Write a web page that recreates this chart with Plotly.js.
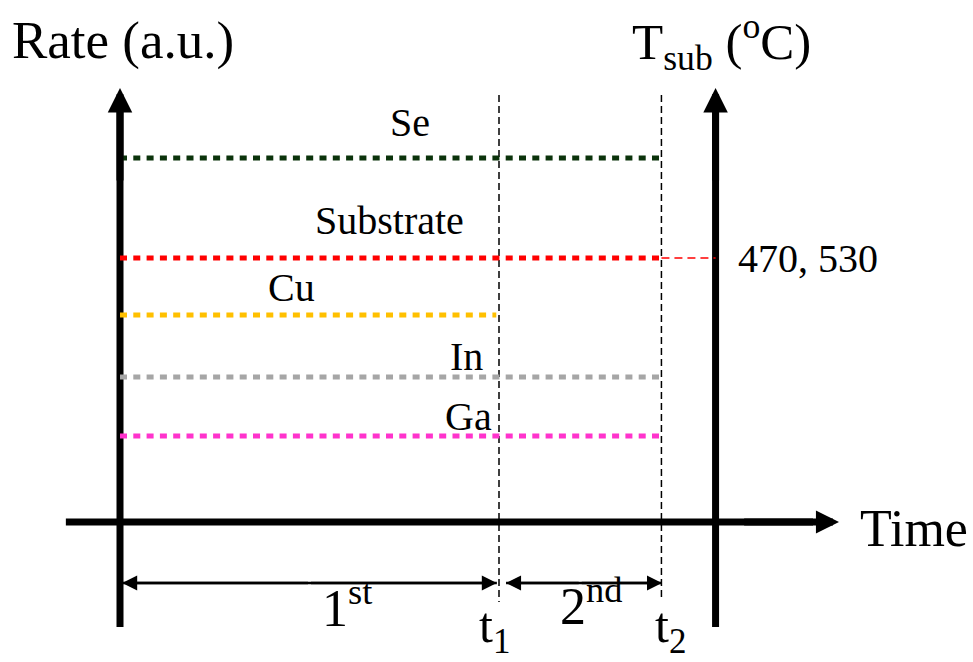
<!DOCTYPE html>
<html>
<head>
<meta charset="utf-8">
<script src="https://cdn.plot.ly/plotly-3.0.1.min.js"></script>
<style>html,body{margin:0;padding:0;background:#fff}#chart{width:973px;height:662px}</style>
</head>
<body>
<div id="chart"></div>
<script>
// ---- data (schematic, arbitrary units) ----
const seriesNames = ['Se', 'Substrate', 'Cu', 'In', 'Ga'];
const seriesLevels = [18.2, 13.2, 10.35, 7.25, 4.3];
const seriesStart = [0, 0, 0, 0, 0];
const seriesEnd = [10, 10, 6.95, 10, 10];
const seriesColors = ['#0b330b', '#ff0000', '#ffc000', '#a6a6a6', '#ff33cc'];
const stageTimes = [0, 7, 10];          // start, t1, t2
const stageLabels = ['1<sup>st</sup>', '2<sup>nd</sup>'];
const timeTickLabels = ['t<sub>1</sub>', 't<sub>2</sub>'];
const tempAxisTime = 11;
const substrateTempLabel = '470, 530';

const W = 973, H = 662;
const xr = [-2.2164, 15.7546];
const yr = [-7, 26.1];
const FONT = '"Liberation Serif", serif';
const px = v => v / W;            // pixel -> paper x
const py = v => 1 - v / H;        // pixel -> paper y

const traces = [];
// axes shafts
traces.push({x: [0, 0], y: [-5.25, 21], mode: 'lines', line: {color: '#000', width: 7}, hoverinfo: 'skip'});
traces.push({x: [tempAxisTime, tempAxisTime], y: [-5.25, 21], mode: 'lines', line: {color: '#000', width: 7}, hoverinfo: 'skip'});
traces.push({x: [-1.0, 12.8], y: [0, 0], mode: 'lines', line: {color: '#000', width: 7}, hoverinfo: 'skip'});
// t1, t2 dashed markers
traces.push({x: [stageTimes[1], stageTimes[1]], y: [21.35, -4.0], mode: 'lines', line: {color: '#000', width: 1.5, dash: '7px,4px'}, hoverinfo: 'skip'});
traces.push({x: [stageTimes[2], stageTimes[2]], y: [21.35, -3.75], mode: 'lines', line: {color: '#000', width: 1.5, dash: '7px,4px'}, hoverinfo: 'skip'});
// flux / substrate lines
for (let i = 0; i < seriesNames.length; i++) {
  traces.push({x: [seriesStart[i], seriesEnd[i]], y: [seriesLevels[i], seriesLevels[i]], mode: 'lines',
    name: seriesNames[i], line: {color: seriesColors[i], width: 5, dash: '7px,6.3px'}, hoverinfo: 'skip'});
}
// thin red link to temperature axis
traces.push({x: [stageTimes[2], tempAxisTime], y: [seriesLevels[1], seriesLevels[1]], mode: 'lines',
  line: {color: '#ff0000', width: 1.3, dash: '8px,5px'}, hoverinfo: 'skip'});
// stage double arrows (shafts)
const arrY = -3.05;
traces.push({x: [stageTimes[0] + 0.04, stageTimes[1] - 0.04], y: [arrY, arrY], mode: 'lines', line: {color: '#000', width: 2.5}, hoverinfo: 'skip'});
traces.push({x: [stageTimes[1] + 0.13, stageTimes[2] + 0.01], y: [arrY, arrY], mode: 'lines', line: {color: '#000', width: 2.5}, hoverinfo: 'skip'});

const ann = [];
function arrow(x, y, ax, ay, w, s) {
  ann.push({x: x, y: y, ax: ax, ay: ay, xref: 'x', yref: 'y', axref: 'x', ayref: 'y', text: '',
    showarrow: true, arrowhead: 2, arrowwidth: w, arrowsize: s, arrowcolor: '#000'});
}
arrow(0, 21.7, 0, 17, 7, 0.7);
arrow(tempAxisTime, 21.7, tempAxisTime, 17, 7, 0.7);
arrow(13.28, 0, 11.5, 0, 7, 0.66);
const m1 = (stageTimes[0] + stageTimes[1]) / 2, m2 = (stageTimes[1] + stageTimes[2]) / 2;
arrow(stageTimes[0] + 0.04, arrY, m1, arrY, 2.5, 1.2);
arrow(stageTimes[1] - 0.04, arrY, m1, arrY, 2.5, 1.2);
arrow(stageTimes[1] + 0.13, arrY, m2, arrY, 2.5, 1.2);
arrow(stageTimes[2] + 0.01, arrY, m2, arrY, 2.5, 1.2);

function label(text, x, y, size, xanchor) {
  ann.push({text: text, x: px(x), y: py(y), xref: 'paper', yref: 'paper', showarrow: false,
    xanchor: xanchor || 'center', yanchor: 'middle', font: {family: FONT, size: size, color: '#000'}});
}
label('Rate (a.u.)', 10, 40, 53, 'left');
label('T<sub>sub</sub> (<sup>o</sup>C)', 630, 42, 51, 'left');
label('Time', 858, 528, 52, 'left');
label(substrateTempLabel, 736, 258, 40, 'left');
const seriesLabelPos = [[410, 123], [389, 220], [291, 287], [466, 356], [468, 416]];
for (let i = 0; i < seriesNames.length; i++) {
  label(seriesNames[i], seriesLabelPos[i][0], seriesLabelPos[i][1], 40);
}
label(stageLabels[0], 347, 604, 52);
label(stageLabels[1], 591, 602, 52);
label(timeTickLabels[0], 494, 629, 50);
label(timeTickLabels[1], 670, 629, 50);

const layout = {
  width: W, height: H, margin: {l: 0, r: 0, t: 0, b: 0},
  paper_bgcolor: '#fff', plot_bgcolor: '#fff', showlegend: false,
  xaxis: {range: xr, visible: false, fixedrange: true},
  yaxis: {range: yr, visible: false, fixedrange: true},
  annotations: ann
};
Plotly.newPlot('chart', traces, layout, {staticPlot: true, displayModeBar: false});
</script>
</body>
</html>
